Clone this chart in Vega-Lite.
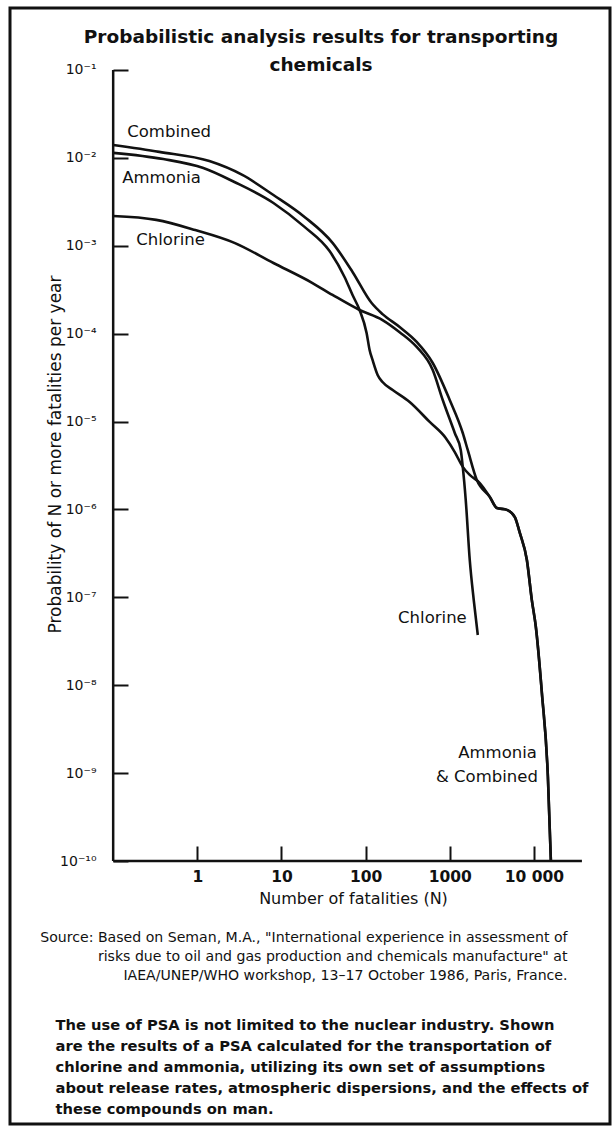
{
  "$schema": "https://vega.github.io/schema/vega-lite/v6.json",
  "width": 600,
  "height": 1116,
  "autosize": "none",
  "padding": {"left": 10, "top": 8, "right": 4, "bottom": 2},
  "background": "white",
  "config": {
    "view": {"stroke": "#111", "strokeWidth": 3},
    "font": "DejaVu Sans",
    "axis": {"grid": false}
  },
  "title": {
    "text": ["Probabilistic analysis results for transporting", "chemicals"],
    "font": "DejaVu Sans",
    "fontSize": 18.5,
    "fontWeight": "bold",
    "color": "#111",
    "anchor": "middle",
    "frame": "group",
    "offset": 0,
    "baseline": "alphabetic",
    "dx": 11,
    "dy": 81,
    "lineHeight": 28
  },
  "datasets": {
    "curves": [
      {"series": "Ammonia", "N": 0.1, "P": 0.0114},
      {"series": "Ammonia", "N": 0.394, "P": 0.0097},
      {"series": "Ammonia", "N": 1.18, "P": 0.00767},
      {"series": "Ammonia", "N": 2.76, "P": 0.00532},
      {"series": "Ammonia", "N": 8.03, "P": 0.00307},
      {"series": "Ammonia", "N": 18.8, "P": 0.00164},
      {"series": "Ammonia", "N": 37.3, "P": 0.00087},
      {"series": "Ammonia", "N": 56.2, "P": 0.000442},
      {"series": "Ammonia", "N": 70, "P": 0.000275},
      {"series": "Ammonia", "N": 84.8, "P": 0.000186},
      {"series": "Ammonia", "N": 102.8, "P": 0.000102},
      {"series": "Ammonia", "N": 111.6, "P": 0.0000653},
      {"series": "Ammonia", "N": 121, "P": 0.0000502},
      {"series": "Ammonia", "N": 139, "P": 0.0000339},
      {"series": "Ammonia", "N": 159, "P": 0.0000282},
      {"series": "Ammonia", "N": 210, "P": 0.0000229},
      {"series": "Ammonia", "N": 334, "P": 0.0000167},
      {"series": "Ammonia", "N": 578, "P": 0.0000099},
      {"series": "Ammonia", "N": 896, "P": 0.0000065},
      {"series": "Ammonia", "N": 1148, "P": 0.0000045},
      {"series": "Ammonia", "N": 1429, "P": 0.00000305},
      {"series": "Ammonia", "N": 1730, "P": 0.00000247},
      {"series": "Ammonia", "N": 2276, "P": 0.000002},
      {"series": "Ammonia", "N": 2992, "P": 0.00000139},
      {"series": "Ammonia", "N": 3630, "P": 0.00000104},
      {"series": "Ammonia", "N": 4775, "P": 0.00000099},
      {"series": "Ammonia", "N": 5940, "P": 0.00000082},
      {"series": "Ammonia", "N": 6810, "P": 0.00000054},
      {"series": "Ammonia", "N": 8260, "P": 0.000000266},
      {"series": "Ammonia", "N": 9460, "P": 0.000000093},
      {"series": "Ammonia", "N": 10560, "P": 0.000000046},
      {"series": "Ammonia", "N": 12450, "P": 0.0000000082},
      {"series": "Ammonia", "N": 14680, "P": 0.00000000091},
      {"series": "Ammonia", "N": 15930, "P": 0.0000000001},
      {"series": "Combined", "N": 0.1, "P": 0.014},
      {"series": "Combined", "N": 0.353, "P": 0.0117},
      {"series": "Combined", "N": 1.39, "P": 0.0092},
      {"series": "Combined", "N": 3.43, "P": 0.0064},
      {"series": "Combined", "N": 8.03, "P": 0.00378},
      {"series": "Combined", "N": 18.8, "P": 0.00213},
      {"series": "Combined", "N": 40.5, "P": 0.00108},
      {"series": "Combined", "N": 70, "P": 0.000504},
      {"series": "Combined", "N": 118, "P": 0.000223},
      {"series": "Combined", "N": 159, "P": 0.000167},
      {"series": "Combined", "N": 254, "P": 0.000119},
      {"series": "Combined", "N": 405, "P": 0.0000805},
      {"series": "Combined", "N": 628, "P": 0.0000464},
      {"series": "Combined", "N": 1000, "P": 0.0000176},
      {"series": "Combined", "N": 1429, "P": 0.00000741},
      {"series": "Combined", "N": 1637, "P": 0.00000475},
      {"series": "Combined", "N": 2096, "P": 0.00000217},
      {"series": "Combined", "N": 2992, "P": 0.00000139},
      {"series": "Combined", "N": 3630, "P": 0.00000104},
      {"series": "Combined", "N": 4775, "P": 0.00000099},
      {"series": "Combined", "N": 5940, "P": 0.00000082},
      {"series": "Combined", "N": 6810, "P": 0.00000054},
      {"series": "Combined", "N": 8260, "P": 0.000000266},
      {"series": "Combined", "N": 9460, "P": 0.000000093},
      {"series": "Combined", "N": 10560, "P": 0.000000046},
      {"series": "Combined", "N": 12450, "P": 0.0000000082},
      {"series": "Combined", "N": 14680, "P": 0.00000000091},
      {"series": "Combined", "N": 15930, "P": 0.0000000001},
      {"series": "Chlorine", "N": 0.1, "P": 0.00218},
      {"series": "Chlorine", "N": 0.325, "P": 0.00197},
      {"series": "Chlorine", "N": 0.946, "P": 0.00151},
      {"series": "Chlorine", "N": 2.76, "P": 0.00108},
      {"series": "Chlorine", "N": 8.03, "P": 0.000637},
      {"series": "Chlorine", "N": 23.4, "P": 0.000377},
      {"series": "Chlorine", "N": 40.5, "P": 0.000276},
      {"series": "Chlorine", "N": 84.8, "P": 0.000186},
      {"series": "Chlorine", "N": 159, "P": 0.000143},
      {"series": "Chlorine", "N": 254, "P": 0.000104},
      {"series": "Chlorine", "N": 405, "P": 0.0000706},
      {"series": "Chlorine", "N": 628, "P": 0.0000386},
      {"series": "Chlorine", "N": 826, "P": 0.0000176},
      {"series": "Chlorine", "N": 1148, "P": 0.00000741},
      {"series": "Chlorine", "N": 1352, "P": 0.00000475},
      {"series": "Chlorine", "N": 1429, "P": 0.00000305},
      {"series": "Chlorine", "N": 1550, "P": 0.00000128},
      {"series": "Chlorine", "N": 1730, "P": 0.000000266},
      {"series": "Chlorine", "N": 1930, "P": 0.000000093},
      {"series": "Chlorine", "N": 2155, "P": 0.0000000373}
    ],
    "labelsLeft": [
      {"label": "Combined", "N": 0.147, "P": 0.01995},
      {"label": "Ammonia", "N": 0.128, "P": 0.00583},
      {"label": "Chlorine", "N": 0.188, "P": 0.001164}
    ],
    "labelsRight": [
      {"label": "Chlorine", "N": 1593, "P": 0.0000000583},
      {"label": "Ammonia", "N": 10860, "P": 0.0000000017},
      {"label": "& Combined", "N": 11160, "P": 0.000000000906}
    ]
  },
  "resolve": {"axis": {"x": "independent", "y": "independent"}},
  "layer": [
    {
      "data": {"name": "curves"},
      "mark": {"type": "line", "interpolate": "monotone", "strokeWidth": 2.6, "color": "#111"},
      "encoding": {
        "x": {
          "field": "N", "type": "quantitative",
          "scale": {"type": "log", "domain": [0.00594, 80330], "nice": false},
          "axis": {
            "orient": "bottom", "offset": -263,
            "values": [1, 10, 100, 1000, 10000],
            "domain": false, "ticks": true, "tickSize": -15, "tickWidth": 2, "tickColor": "#111",
            "labelPadding": 30, "labelBaseline": "middle", "labelFont": "DejaVu Sans", "labelFontSize": 15.5,
            "labelFontWeight": "bold", "labelColor": "#111", "labelFlush": false, "labelOverlap": false,
            "labelExpr": "datum.value >= 10000 ? '10 000' : format(datum.value, 'd')",
            "title": "Number of fatalities (N)", "titleFont": "DejaVu Sans", "titleFontSize": 16,
            "titleFontWeight": "normal", "titleColor": "#111", "titleX": 343, "titleY": 42,
            "titleBaseline": "alphabetic", "titleAlign": "center"
          }
        },
        "y": {
          "field": "P", "type": "quantitative",
          "scale": {"type": "log", "domain": [1.019e-13, 0.5073], "nice": false},
          "axis": {
            "orient": "left", "offset": -103,
            "values": [0.1, 0.01, 0.001, 0.0001, 0.00001, 0.000001, 0.0000001, 0.00000001, 0.000000001, 0.0000000001],
            "domain": false, "ticks": true, "tickSize": -15, "tickWidth": 2, "tickColor": "#111",
            "labelPadding": 32, "labelBaseline": "middle", "labelAlign": "right", "labelFont": "DejaVu Sans",
            "labelFontSize": 14, "labelColor": "#111", "labelFlush": false, "labelOverlap": false,
            "labelExpr": "'10' + ['⁻¹','⁻²','⁻³','⁻⁴','⁻⁵','⁻⁶','⁻⁷','⁻⁸','⁻⁹','⁻¹⁰'][round(-log(datum.value)/LN10) - 1]",
            "title": "Probability of N or more fatalities per year", "titleFont": "DejaVu Sans",
            "titleFontSize": 17, "titleFontWeight": "normal", "titleColor": "#111",
            "titleX": -58, "titleY": 446, "titleAngle": -90, "titleBaseline": "middle", "titleAlign": "center"
          }
        },
        "detail": {"field": "series", "type": "nominal"}
      }
    },
    {
      "data": {"values": [{}]},
      "mark": {"type": "rule", "strokeWidth": 2.5, "color": "#111"},
      "encoding": {
        "x": {"datum": 0.1, "type": "quantitative", "axis": null},
        "y": {"datum": 0.0000000001, "type": "quantitative", "axis": null},
        "y2": {"datum": 0.1}
      }
    },
    {
      "data": {"values": [{}]},
      "mark": {"type": "rule", "strokeWidth": 2.5, "color": "#111"},
      "encoding": {
        "x": {
          "datum": 0.1, "type": "quantitative",
          "axis": {
            "orient": "top", "domain": false, "ticks": false, "labels": false, "grid": false,
            "title": [
              "The use of PSA is not limited to the nuclear industry. Shown",
              "are the results of a PSA calculated for the transportation of",
              "chlorine and ammonia, utilizing its own set of assumptions",
              "about release rates, atmospheric dispersions, and the effects of",
              "these compounds on man."
            ],
            "titleFont": "DejaVu Sans", "titleFontSize": 14.7, "titleFontWeight": "bold", "titleColor": "#111",
            "titleAlign": "left", "titleBaseline": "top", "titleAngle": 0,
            "titleX": 45, "titleY": 1009, "titleLineHeight": 21
          }
        },
        "x2": {"datum": 37250},
        "y": {
          "datum": 0.0000000001, "type": "quantitative",
          "axis": {
            "orient": "right", "domain": false, "ticks": false, "labels": false, "grid": false,
            "title": [
              "Source: Based on Seman, M.A., \"International experience in assessment of",
              "risks due to oil and gas production and chemicals manufacture\" at",
              "IAEA/UNEP/WHO workshop, 13–17 October 1986, Paris, France."
            ],
            "titleFont": "DejaVu Sans", "titleFontSize": 14.1, "titleFontWeight": "normal", "titleColor": "#111",
            "titleAlign": "right", "titleBaseline": "top", "titleAngle": 0,
            "titleX": -43, "titleY": 922, "titleLineHeight": 19
          }
        }
      }
    },
    {
      "data": {"name": "labelsLeft"},
      "mark": {"type": "text", "align": "left", "baseline": "middle", "font": "DejaVu Sans", "fontSize": 16.5, "color": "#111"},
      "encoding": {
        "x": {"field": "N", "type": "quantitative", "axis": null},
        "y": {"field": "P", "type": "quantitative", "axis": null},
        "text": {"field": "label", "type": "nominal"}
      }
    },
    {
      "data": {"name": "labelsRight"},
      "mark": {"type": "text", "align": "right", "baseline": "middle", "font": "DejaVu Sans", "fontSize": 16.5, "color": "#111"},
      "encoding": {
        "x": {"field": "N", "type": "quantitative", "axis": null},
        "y": {"field": "P", "type": "quantitative", "axis": null},
        "text": {"field": "label", "type": "nominal"}
      }
    }
  ]
}
